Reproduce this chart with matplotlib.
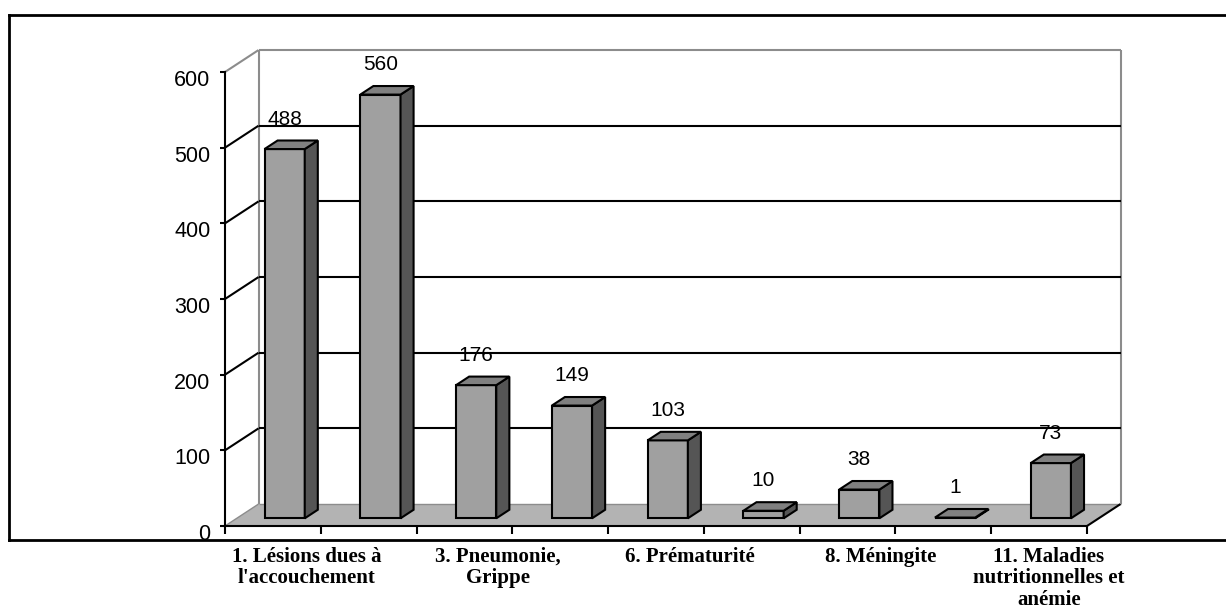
import matplotlib
matplotlib.use("Agg")
import matplotlib.pyplot as plt
from matplotlib.lines import Line2D
from matplotlib.transforms import ScaledTranslation

# deaths by cause (bars in order), every other cause is labelled on the axis
values = [488, 560, 176, 149, 103, 10, 38, 1, 73]
shown_labels = [
    "1. Lésions dues à\nl'accouchement",
    "3. Pneumonie,\nGrippe",
    "6. Prématurité",
    "8. Méningite",
    "11. Maladies\nnutritionnelles et\nanémie",
]
shown_index = [0, 2, 4, 6, 8]
y_ticks = [0, 100, 200, 300, 400, 500, 600]

# fake 3d: full depth expressed in data units (categories, values)
DX, DY = 0.35, 29.0
F0, F1 = 0.35, 0.74      # bar front / back depth
W = 0.42                 # bar width in category units
FRONT, SIDE, TOP = "#a0a0a0", "#555555", "#808080"
FLOOR, WALL = "#b3b3b3", "#8c8c8c"
n = len(values)


def proj(x, y, f):
    return x + f * DX, y + f * DY


def poly(ax, pts, color, z):
    xs, ys = zip(*pts)
    ax.fill(xs, ys, facecolor=color, edgecolor="black", linewidth=1.5,
            joinstyle="miter", zorder=z, clip_on=False)


def seg(ax, p, q, color, lw=1.5, z=1):
    ax.plot([p[0], q[0]], [p[1], q[1]], color=color, lw=lw, zorder=z,
            clip_on=False, solid_capstyle="butt")


fig = plt.figure(figsize=(12.26, 6.11), dpi=100)
ax = fig.add_axes([225 / 1226, 85 / 611, 862 / 1226, 454 / 611])
ax.set_xlim(0, n)
ax.set_ylim(0, 600)

# floor
fl = [(0, 0), (n, 0), proj(n, 0, 1), proj(0, 0, 1)]
ax.fill(*zip(*fl), facecolor=FLOOR, edgecolor="none", zorder=0.5, clip_on=False)
seg(ax, (0, 0), proj(0, 0, 1), WALL, lw=1)
seg(ax, proj(0, 0, 1), proj(n, 0, 1), WALL, lw=1)
seg(ax, (n, 0), proj(n, 0, 1), "black")

# walls and gridlines
seg(ax, proj(0, 0, 1), proj(0, 600, 1), WALL)
seg(ax, proj(0, 600, 1), proj(n, 600, 1), WALL)
seg(ax, proj(n, 0, 1), proj(n, 600, 1), WALL)
seg(ax, (0, 600), proj(0, 600, 1), WALL)
for v in y_ticks[1:-1]:
    seg(ax, (0, v), proj(0, v, 1), "black")
    seg(ax, proj(0, v, 1), proj(n, v, 1), "black")

# bars
for i, v in enumerate(values):
    xc = i + 0.5
    x0, x1 = xc - W / 2, xc + W / 2
    poly(ax, [proj(x0, 0, F0), proj(x1, 0, F0), proj(x1, v, F0), proj(x0, v, F0)], FRONT, 3)
    poly(ax, [proj(x1, 0, F0), proj(x1, 0, F1), proj(x1, v, F1), proj(x1, v, F0)], SIDE, 3)
    poly(ax, [proj(x0, v, F0), proj(x1, v, F0), proj(x1, v, F1), proj(x0, v, F1)], TOP, 3)
    ax.annotate(str(v), xy=proj(xc, v, F0), xytext=(0, 21.5), textcoords="offset points",
                ha="center", va="center", fontsize=15, family="Liberation Sans", zorder=5)

# axes
for s in ["top", "right"]:
    ax.spines[s].set_visible(False)
for s in ["left", "bottom"]:
    ax.spines[s].set_linewidth(1.5)
    ax.spines[s].set_color("black")
ax.set_facecolor("none")
ax.set_yticks(y_ticks)
ax.set_xticks(range(n + 1))
ax.set_xticklabels([])
ax.tick_params(axis="y", direction="out", length=3.6, width=1.5, pad=7, labelsize=15.5)
ax.tick_params(axis="x", direction="out", length=5.8, width=1.5)
shift = ScaledTranslation(0, -0.06, fig.dpi_scale_trans)
for lbl in ax.get_yticklabels():
    lbl.set_family("Liberation Sans")
    lbl.set_transform(lbl.get_transform() + shift)

for idx, text in zip(shown_index, shown_labels):
    ax.annotate(text, xy=(min(idx + 0.85, n - 0.4), 0), xycoords=("data", "axes fraction"),
                xytext=(0, -15), textcoords="offset points", ha="center", va="top",
                multialignment="center", fontsize=15, fontweight="bold",
                family="Liberation Serif", linespacing=1.1)

# chart frame
fx0, fy0, fy1 = 9 / 1226, 71 / 611, 596 / 611
fig.add_artist(Line2D([fx0, 1], [fy1, fy1], color="black", lw=2))
fig.add_artist(Line2D([fx0, 1], [fy0, fy0], color="black", lw=2))
fig.add_artist(Line2D([fx0, fx0], [fy0, fy1], color="black", lw=2))

fig.savefig("out.png", dpi=100)
